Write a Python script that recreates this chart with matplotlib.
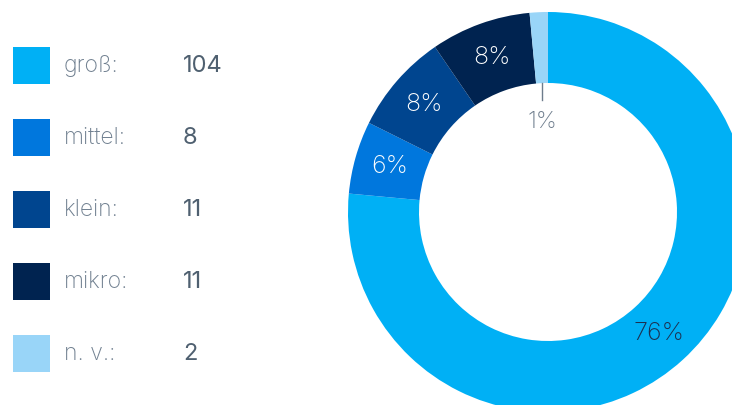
import matplotlib
matplotlib.use("Agg")
import matplotlib.pyplot as plt
import numpy as np

categories = ["groß:", "mittel:", "klein:", "mikro:", "n. v.:"]
counts = [104, 8, 11, 11, 2]
colors = ["#00b0f5", "#0077dd", "#00458f", "#002350", "#99d5f8"]
pct_colors = ["#1c2f4f", "white", "white", "white", "#6d7c8c"]

plt.rcParams["font.family"] = ["Inter", "DejaVu Sans"]

W, H = 732, 405
fig = plt.figure(figsize=(W / 100, H / 100), dpi=100)

# legend on the left, drawn in pixel coordinates
leg = fig.add_axes([0, 0, 1, 1])
leg.set_xlim(0, W)
leg.set_ylim(H, 0)
leg.axis("off")
for i, (cat, n, col) in enumerate(zip(categories, counts, colors)):
    yc = 65 + i * 72
    leg.add_patch(plt.Rectangle((13, yc - 18.5), 37, 37, color=col, lw=0))
    leg.text(64, yc + 1, cat, fontsize=16.5, color="#6f7f8f", va="center",
             fontweight="light")
    leg.text(183, yc + 1, str(n), fontsize=17, color="#4f6070", va="center")

# donut, partly cut by the figure edge
R_px = 200
cx, cy = 548, H - 212
ax = fig.add_axes([(cx - R_px) / W, (cy - R_px) / H, 2 * R_px / W, 2 * R_px / H])
ax.axis("off")

inner = 0.645
wedges, _ = ax.pie(counts, colors=colors, startangle=90, counterclock=False,
                   radius=1, wedgeprops=dict(width=1 - inner, linewidth=0))
ax.set_xlim(-1, 1)
ax.set_ylim(-1, 1)
ax.set_aspect("equal")

total = sum(counts)
start = 90.0
for i, (n, w) in enumerate(zip(counts, wedges)):
    span = n / total * 360
    mid = np.deg2rad(start - span / 2)
    start -= span
    pct = f"{round(n / total * 100)}%"
    if i == len(counts) - 1:
        x = np.cos(mid) * inner
        ax.plot([x, x], [np.sin(mid) * inner, 0.56], color="#6d7c8c", lw=1)
        ax.text(x, 0.45, pct, ha="center", va="center", fontsize=17,
                color=pct_colors[i], fontweight="light")
    else:
        r = (1 + inner) / 2
        ax.text(np.cos(mid) * r, np.sin(mid) * r, pct, ha="center", va="center",
                fontsize=18, color=pct_colors[i], fontweight="light")

fig.savefig("out.png", dpi=100)
